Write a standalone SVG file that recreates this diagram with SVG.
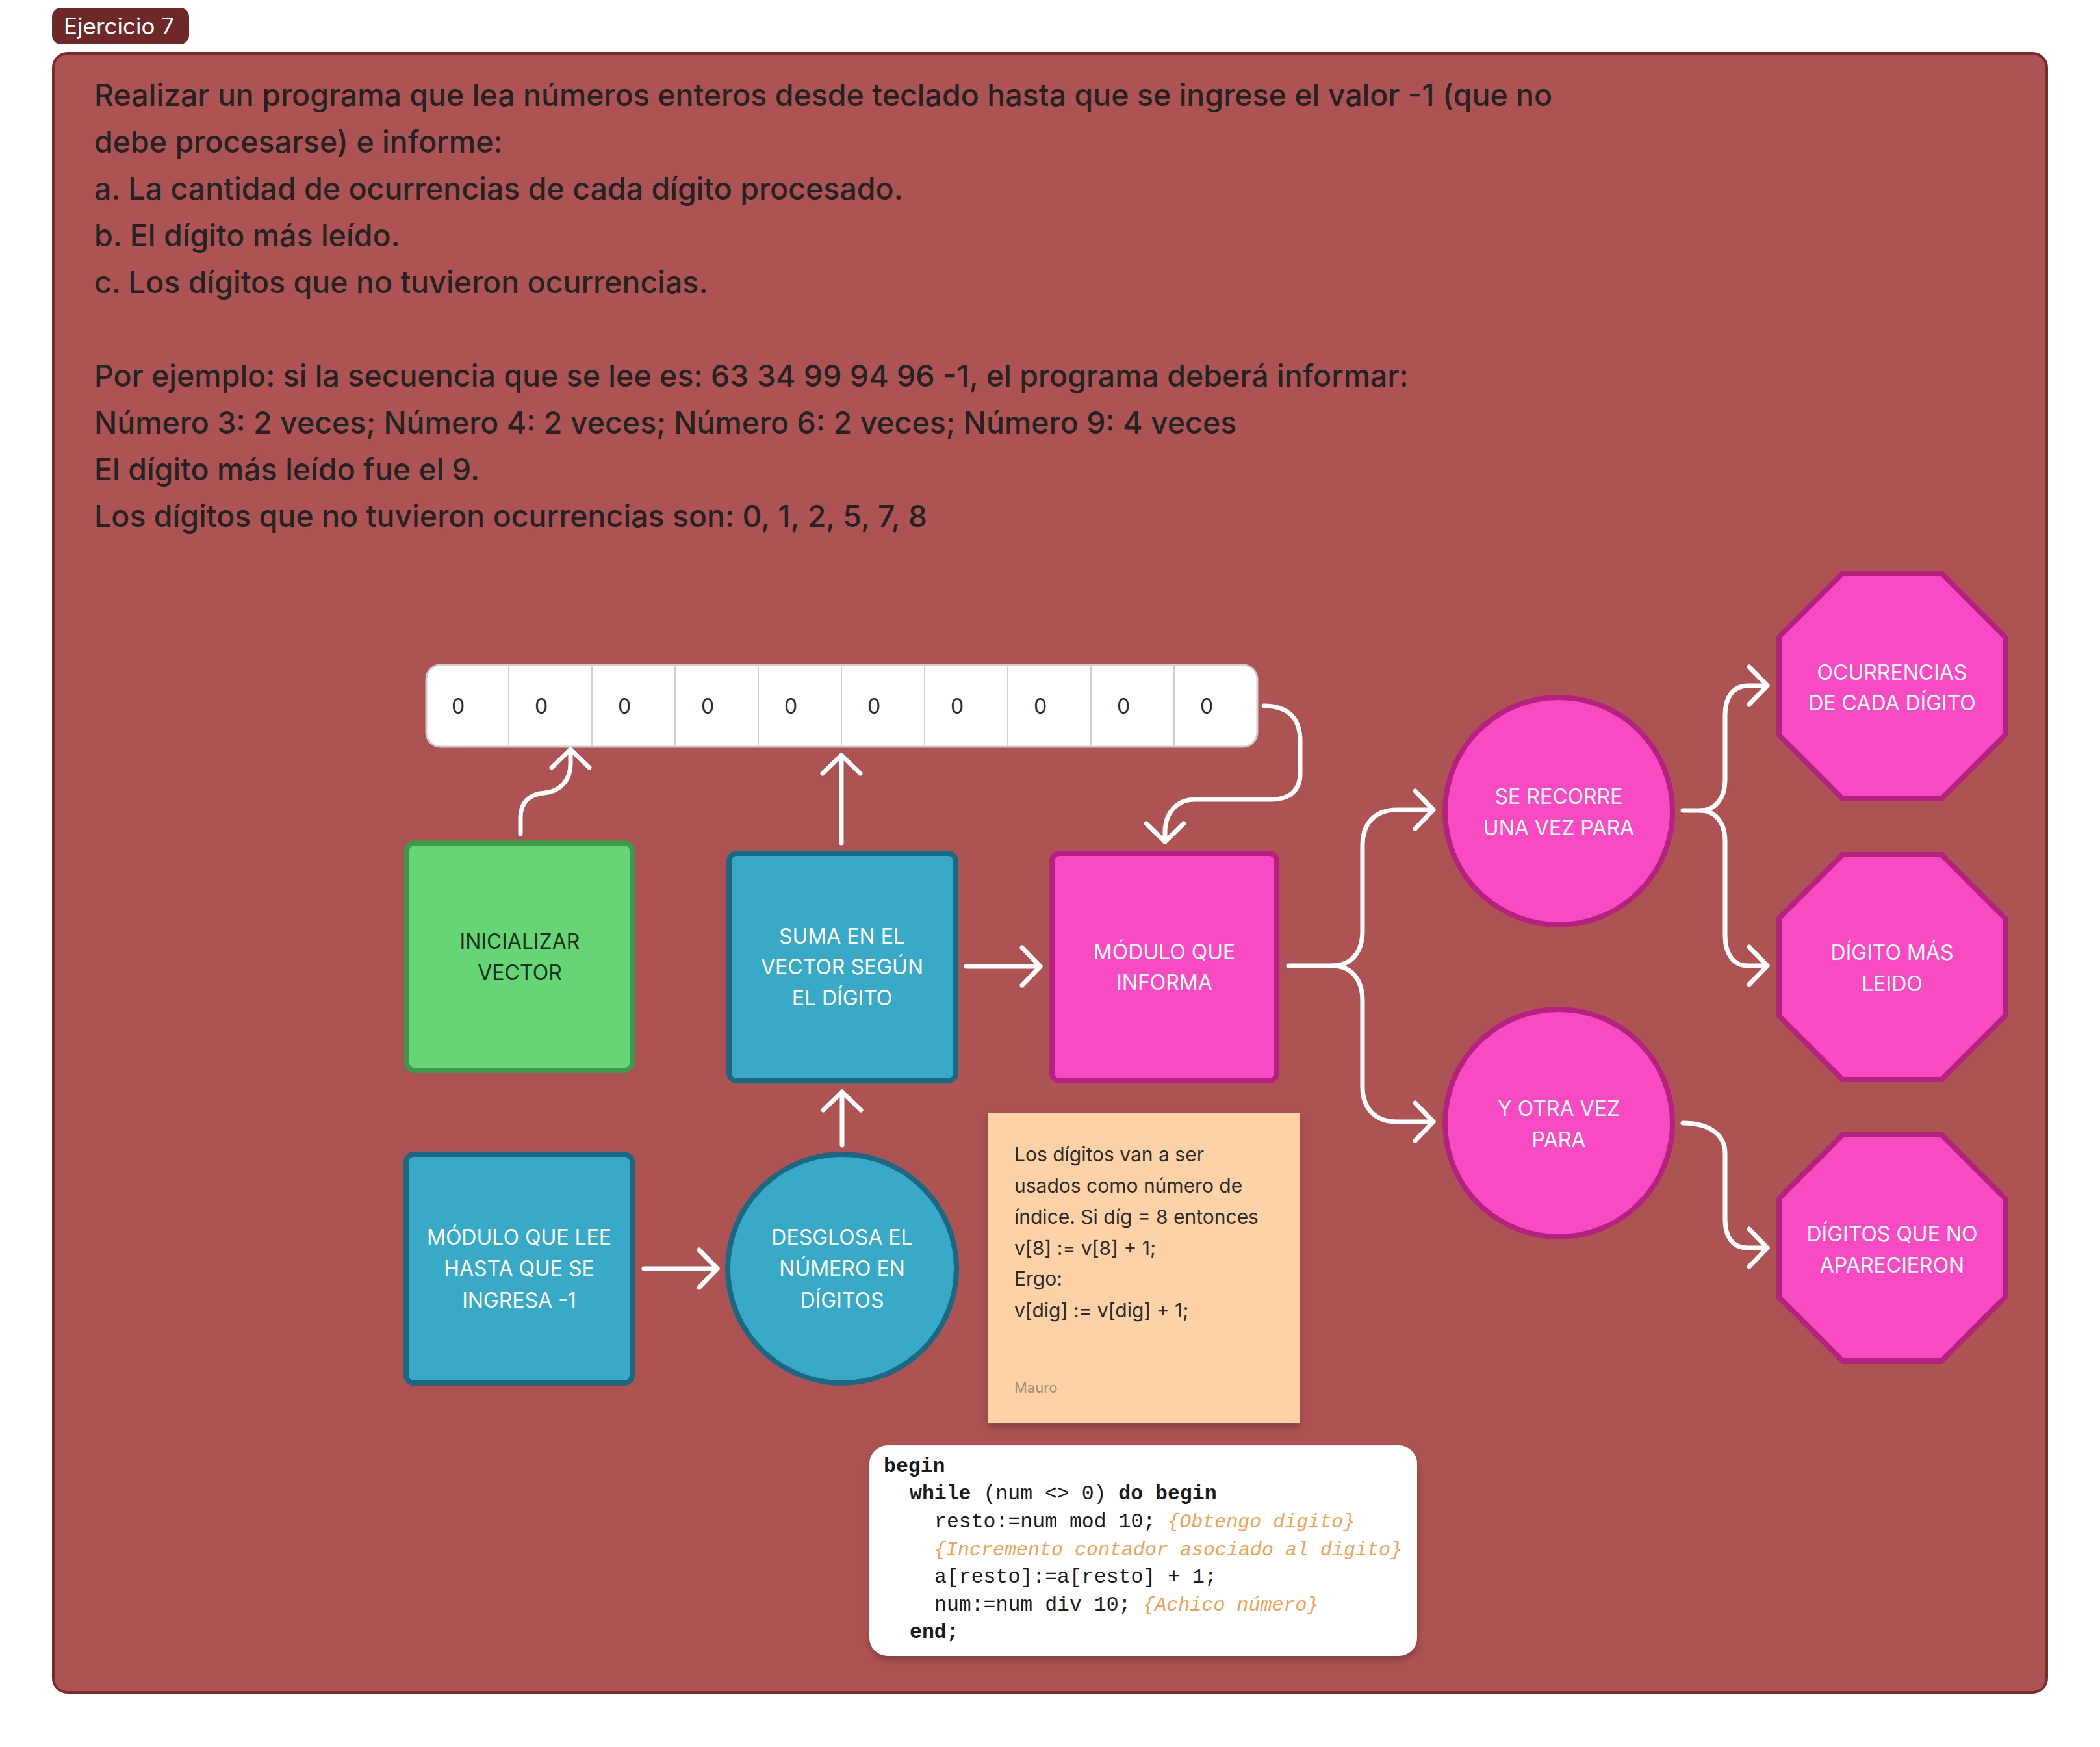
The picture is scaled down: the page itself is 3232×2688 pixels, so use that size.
<svg xmlns="http://www.w3.org/2000/svg" width="3232" height="2688" viewBox="0 0 3232 2688">
<style>
.main{font-family:Inter,"Liberation Sans",sans-serif;font-size:46.5px;font-weight:500;fill:#232323}
.lbl{font-family:Inter,"Liberation Sans",sans-serif;font-size:32px;fill:#ffffff;text-anchor:middle}
.dark{fill:#17301b}
.note{font-family:Inter,"Liberation Sans",sans-serif;font-size:30px;fill:#2b2b2b}
.zero{font-family:Inter,"Liberation Sans",sans-serif;font-size:32px;fill:#2a2a2a}
.code{font-family:"Liberation Mono","DejaVu Sans Mono",monospace;font-size:31.5px;fill:#1a1a1a}
.cm{font-style:italic;fill:#efa255;font-size:30px}
.b{font-weight:bold}
.conn{fill:none;stroke:#ffffff;stroke-width:7;stroke-linecap:round;stroke-linejoin:round;marker-end:url(#arr)}
.pink{fill:#f84ac3;stroke:#b4217f;stroke-width:8;stroke-linejoin:round}
.blue{fill:#38a9c7;stroke:#1c6883;stroke-width:8}
.green{fill:#66d575;stroke:#3c9a4a;stroke-width:8}
</style>
<defs>
<marker id="arr" markerUnits="userSpaceOnUse" markerWidth="90" markerHeight="90" viewBox="-45 -45 90 90" refX="0" refY="0" orient="auto" overflow="visible">
<path d="M-28,-29 L0,0 L-28,29" fill="none" stroke="#ffffff" stroke-width="7" stroke-linecap="round" stroke-linejoin="round"/>
</marker>
<filter id="sh" x="-10%" y="-10%" width="120%" height="130%">
<feDropShadow dx="0" dy="6" stdDeviation="6" flood-color="#000" flood-opacity="0.25"/>
</filter>
</defs>
<rect width="3232" height="2688" fill="#ffffff"/>
<g id="tag">
<rect x="80" y="12" width="211" height="56" rx="14" fill="#6e2828"/>
<text x="98" y="53" style="font-family:Inter,'Liberation Sans',sans-serif;font-size:35px;fill:#ffffff">Ejercicio 7</text>
</g>
<g id="panel">
<rect x="82" y="82" width="3068" height="2522" rx="22" fill="#ae5353" stroke="#7b2a2a" stroke-width="4"/>
</g>
<g id="statement" class="main">
<text x="145" y="163">Realizar un programa que lea números enteros desde teclado hasta que se ingrese el valor -1 (que no</text>
<text x="145" y="235">debe procesarse) e informe:</text>
<text x="145" y="307">a. La cantidad de ocurrencias de cada dígito procesado.</text>
<text x="145" y="379">b. El dígito más leído.</text>
<text x="145" y="451">c. Los dígitos que no tuvieron ocurrencias.</text>
<text x="145" y="595">Por ejemplo: si la secuencia que se lee es: 63 34 99 94 96 -1, el programa deberá informar:</text>
<text x="145" y="667">Número 3: 2 veces; Número 4: 2 veces; Número 6: 2 veces; Número 9: 4 veces</text>
<text x="145" y="739">El dígito más leído fue el 9.</text>
<text x="145" y="811">Los dígitos que no tuvieron ocurrencias son: 0, 1, 2, 5, 7, 8</text>
</g>
<g id="vector">
<rect x="656" y="1023" width="1279" height="126" rx="22" fill="#ffffff" stroke="#cfcfcf" stroke-width="3"/>
<g stroke="#d0d0d0" stroke-width="2">
<line x1="783" y1="1024" x2="783" y2="1148"/><line x1="911" y1="1024" x2="911" y2="1148"/>
<line x1="1039" y1="1024" x2="1039" y2="1148"/><line x1="1167" y1="1024" x2="1167" y2="1148"/>
<line x1="1295" y1="1024" x2="1295" y2="1148"/><line x1="1423" y1="1024" x2="1423" y2="1148"/>
<line x1="1551" y1="1024" x2="1551" y2="1148"/><line x1="1679" y1="1024" x2="1679" y2="1148"/>
<line x1="1807" y1="1024" x2="1807" y2="1148"/>
</g>
<g class="zero">
<text x="695" y="1098">0</text><text x="823" y="1098">0</text><text x="951" y="1098">0</text>
<text x="1079" y="1098">0</text><text x="1207" y="1098">0</text><text x="1335" y="1098">0</text>
<text x="1463" y="1098">0</text><text x="1591" y="1098">0</text><text x="1719" y="1098">0</text>
<text x="1847" y="1098">0</text>
</g>
</g>
<g id="inicializar">
<rect class="green" x="626" y="1297" width="347" height="350" rx="12"/>
<text class="lbl dark" x="800"><tspan x="800" y="1460">INICIALIZAR</tspan><tspan x="800" y="1508">VECTOR</tspan></text>
</g>
<g id="suma">
<rect class="blue" x="1122" y="1313" width="349" height="350" rx="12"/>
<text class="lbl"><tspan x="1296" y="1452">SUMA EN EL</tspan><tspan x="1296" y="1499">VECTOR SEGÚN</tspan><tspan x="1296" y="1547">EL DÍGITO</tspan></text>
</g>
<g id="informa">
<rect class="pink" x="1619" y="1313" width="346" height="350" rx="12"/>
<text class="lbl"><tspan x="1792" y="1476">MÓDULO QUE</tspan><tspan x="1792" y="1523">INFORMA</tspan></text>
</g>
<g id="lee">
<rect class="blue" x="625" y="1776" width="348" height="352" rx="12"/>
<text class="lbl"><tspan x="799" y="1915">MÓDULO QUE LEE</tspan><tspan x="799" y="1963">HASTA QUE SE</tspan><tspan x="799" y="2012">INGRESA -1</tspan></text>
</g>
<g id="desglosa">
<circle class="blue" cx="1296" cy="1952" r="176"/>
<text class="lbl"><tspan x="1296" y="1915">DESGLOSA EL</tspan><tspan x="1296" y="1963">NÚMERO EN</tspan><tspan x="1296" y="2012">DÍGITOS</tspan></text>
</g>
<g id="nota">
<rect x="1520" y="1712" width="480" height="478" fill="#fed2a7" filter="url(#sh)"/>
<text class="note"><tspan x="1561" y="1787">Los dígitos van a ser</tspan><tspan x="1561" y="1835">usados como número de</tspan><tspan x="1561" y="1883">índice. Si díg = 8 entonces</tspan><tspan x="1561" y="1931">v[8] := v[8] + 1;</tspan><tspan x="1561" y="1978">Ergo:</tspan><tspan x="1561" y="2027">v[dig] := v[dig] + 1;</tspan></text>
<text x="1561" y="2143" style="font-family:Inter,'Liberation Sans',sans-serif;font-size:22px;fill:#a08c78">Mauro</text>
</g>
<g id="codigo">
<rect x="1338" y="2224" width="843" height="324" rx="28" fill="#ffffff" filter="url(#sh)"/>
<text class="code" x="1360" y="2265"><tspan class="b">begin</tspan></text>
<text class="code" x="1400" y="2307"><tspan class="b">while</tspan> (num &lt;&gt; 0) <tspan class="b">do begin</tspan></text>
<text class="code" x="1438" y="2350">resto:=num mod 10; <tspan class="cm">{Obtengo digito}</tspan></text>
<text class="code" x="1438" y="2393"><tspan class="cm">{Incremento contador asociado al digito}</tspan></text>
<text class="code" x="1438" y="2435">a[resto]:=a[resto] + 1;</text>
<text class="code" x="1438" y="2478">num:=num div 10; <tspan class="cm">{Achico número}</tspan></text>
<text class="code" x="1400" y="2520"><tspan class="b">end;</tspan></text>
</g>
<g id="recorre">
<circle class="pink" cx="2399" cy="1248" r="175"/>
<text class="lbl"><tspan x="2399" y="1237">SE RECORRE</tspan><tspan x="2399" y="1285">UNA VEZ PARA</tspan></text>
</g>
<g id="otravez">
<circle class="pink" cx="2399" cy="1728" r="175"/>
<text class="lbl"><tspan x="2399" y="1717">Y OTRA VEZ</tspan><tspan x="2399" y="1765">PARA</tspan></text>
</g>
<g id="ocurrencias">
<polygon class="pink" points="2836,882 2988,882 3086,980 3086,1131 2988,1229 2836,1229 2738,1131 2738,980"/>
<text class="lbl"><tspan x="2912" y="1046">OCURRENCIAS</tspan><tspan x="2912" y="1093">DE CADA DÍGITO</tspan></text>
</g>
<g id="masleido">
<polygon class="pink" points="2836,1315 2988,1315 3086,1413 3086,1563 2988,1661 2836,1661 2738,1563 2738,1413"/>
<text class="lbl"><tspan x="2912" y="1477">DÍGITO MÁS</tspan><tspan x="2912" y="1525">LEIDO</tspan></text>
</g>
<g id="noaparecieron">
<polygon class="pink" points="2836,1746 2988,1746 3086,1844 3086,1996 2988,2094 2836,2094 2738,1996 2738,1844"/>
<text class="lbl"><tspan x="2912" y="1910">DÍGITOS QUE NO</tspan><tspan x="2912" y="1958">APARECIERON</tspan></text>
</g>
<g id="connectors">
<path class="conn" d="M801,1283 L801,1258 C801,1234 815,1222 838,1220 C862,1218 878,1200 878,1176 L878,1153"/>
<path class="conn" d="M1295,1297 L1295,1162"/>
<path class="conn" d="M1945,1086 C1985,1086 2001,1108 2001,1140 L2001,1190 C2001,1216 1985,1230 1957,1230 L1840,1230 C1810,1230 1793,1252 1793,1280 L1793,1295"/>
<path class="conn" d="M1487,1487 L1601,1487"/>
<path class="conn" d="M1296,1762 L1296,1680"/>
<path class="conn" d="M991,1952 L1104,1952"/>
<path class="conn" d="M1983,1486 L2050,1486 C2080,1486 2097,1465 2097,1432 L2097,1300 C2097,1266 2117,1246 2150,1246 L2206,1246"/>
<path class="conn" d="M2050,1486 C2080,1486 2097,1507 2097,1540 L2097,1672 C2097,1706 2117,1726 2150,1726 L2206,1726"/>
<path class="conn" d="M2590,1247 L2617,1247 C2640,1247 2655,1228 2655,1200 L2655,1100 C2655,1072 2668,1055 2690,1055 L2720,1055"/>
<path class="conn" d="M2617,1247 C2640,1247 2655,1266 2655,1294 L2655,1440 C2655,1468 2668,1486 2690,1486 L2720,1486"/>
<path class="conn" d="M2590,1728 C2630,1728 2655,1745 2655,1775 L2655,1875 C2655,1905 2668,1920 2690,1920 L2720,1920"/>
</g>
</svg>
